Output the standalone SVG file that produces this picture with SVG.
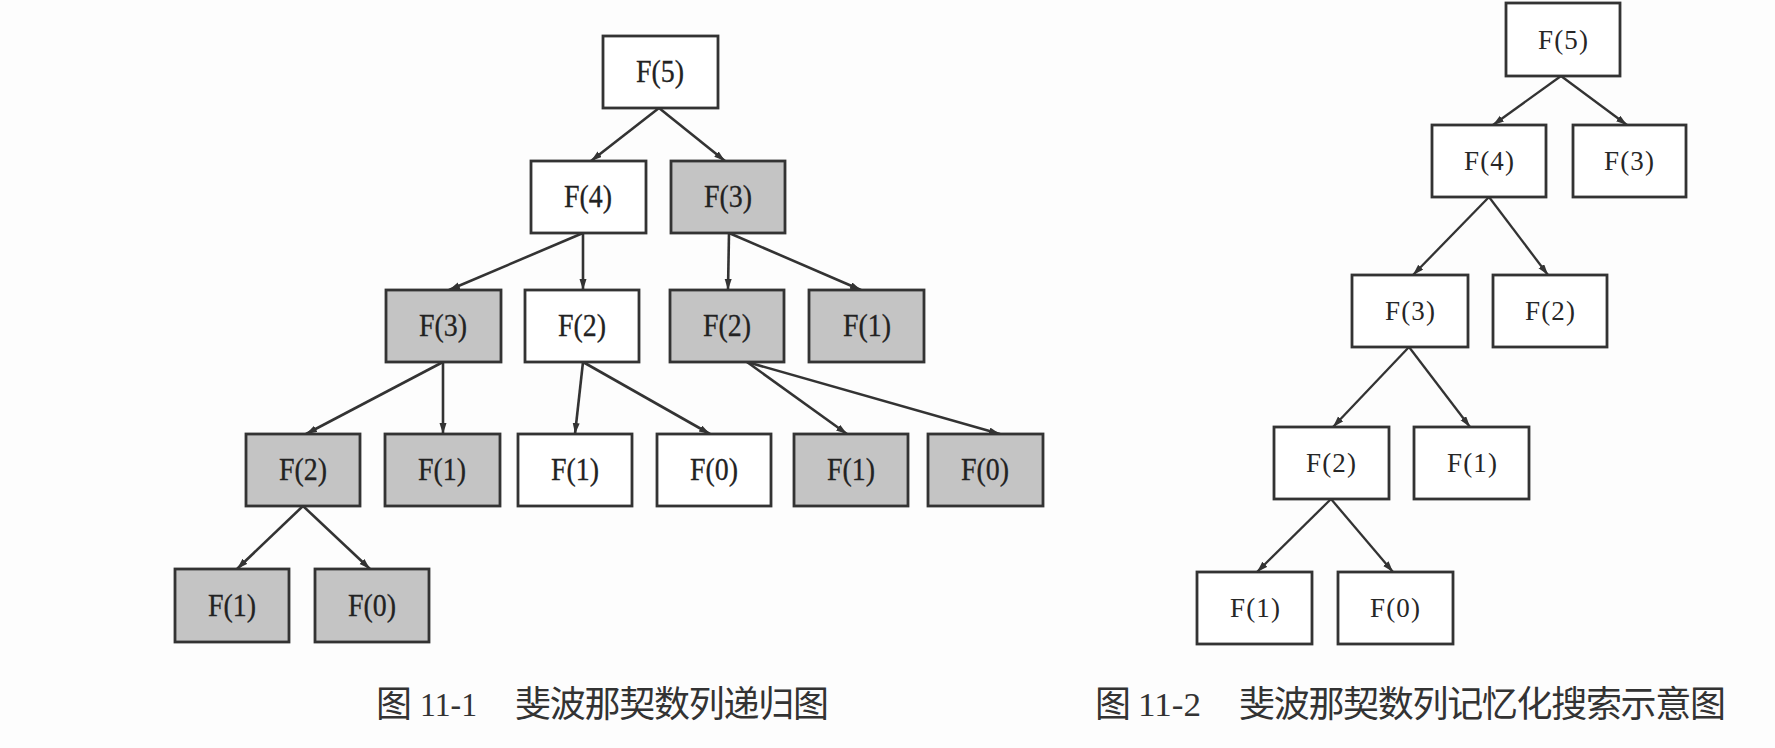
<svg xmlns="http://www.w3.org/2000/svg" width="1775" height="748" viewBox="0 0 1775 748">
<defs>
<marker id="ah" markerUnits="userSpaceOnUse" markerWidth="12" markerHeight="8" refX="11" refY="3.5" orient="auto">
<path d="M0,0 L11,3.5 L0,7 z" fill="#333"/>
</marker>
</defs>
<style>
.box{stroke:#333;stroke-width:2.8}
.w{fill:#ffffff}
.g{fill:#c4c4c4}
.lt{font-family:"Liberation Serif",serif;font-size:31px;text-anchor:middle;fill:#222;stroke:#222;stroke-width:0.3}
.rt{font-family:"Liberation Serif",serif;font-size:27px;text-anchor:middle;fill:#262626}
.edge{stroke:#333;stroke-width:2.6;fill:none;marker-end:url(#ah)}
.redge{stroke:#333;stroke-width:2.3;fill:none;marker-end:url(#ah)}
.cap{font-family:"Noto Sans CJK SC","Noto Sans",sans-serif;font-size:36px;fill:#333}
.num{font-family:"Liberation Serif",serif;font-size:34px;fill:#333}
</style>
<rect width="1775" height="748" fill="#fdfdfd"/>

<g id="connectors">
<line class="edge" x1="659" y1="108" x2="591" y2="161"/>
<line class="edge" x1="659" y1="108" x2="725" y2="161"/>
<line class="edge" x1="583" y1="233" x2="449" y2="290"/>
<line class="edge" x1="583" y1="233" x2="583" y2="290"/>
<line class="edge" x1="729" y1="233" x2="728" y2="290"/>
<line class="edge" x1="729" y1="233" x2="861" y2="290"/>
<line class="edge" x1="443" y1="362" x2="306" y2="434"/>
<line class="edge" x1="443" y1="362" x2="443" y2="434"/>
<line class="edge" x1="583" y1="362" x2="575" y2="434"/>
<line class="edge" x1="583" y1="362" x2="710" y2="434"/>
<line class="edge" x1="747" y1="362" x2="847" y2="434"/>
<line class="edge" x1="747" y1="362" x2="1000" y2="434"/>
<line class="edge" x1="303" y1="506" x2="237" y2="569"/>
<line class="edge" x1="303" y1="506" x2="370" y2="569"/>
<line class="redge" x1="1561" y1="76" x2="1493" y2="125"/>
<line class="redge" x1="1561" y1="76" x2="1627" y2="125"/>
<line class="redge" x1="1489" y1="197" x2="1413" y2="275"/>
<line class="redge" x1="1489" y1="197" x2="1548" y2="275"/>
<line class="redge" x1="1409" y1="347" x2="1333" y2="427"/>
<line class="redge" x1="1409" y1="347" x2="1470" y2="427"/>
<line class="redge" x1="1331" y1="499" x2="1257" y2="572"/>
<line class="redge" x1="1331" y1="499" x2="1393" y2="572"/>
</g>

<g id="L-F5"><rect class="box w" x="603" y="36" width="115" height="72"/><text class="lt" x="660" y="82" textLength="48" lengthAdjust="spacingAndGlyphs">F(5)</text></g>
<g id="L-F4"><rect class="box w" x="531" y="161" width="115" height="72"/><text class="lt" x="588" y="207" textLength="48" lengthAdjust="spacingAndGlyphs">F(4)</text></g>
<g id="L-F3a"><rect class="box g" x="671" y="161" width="114" height="72"/><text class="lt" x="728" y="207" textLength="48" lengthAdjust="spacingAndGlyphs">F(3)</text></g>
<g id="L-F3b"><rect class="box g" x="386" y="290" width="115" height="72"/><text class="lt" x="443" y="336" textLength="48" lengthAdjust="spacingAndGlyphs">F(3)</text></g>
<g id="L-F2a"><rect class="box w" x="525" y="290" width="114" height="72"/><text class="lt" x="582" y="336" textLength="48" lengthAdjust="spacingAndGlyphs">F(2)</text></g>
<g id="L-F2b"><rect class="box g" x="670" y="290" width="114" height="72"/><text class="lt" x="727" y="336" textLength="48" lengthAdjust="spacingAndGlyphs">F(2)</text></g>
<g id="L-F1a"><rect class="box g" x="809" y="290" width="115" height="72"/><text class="lt" x="867" y="336" textLength="48" lengthAdjust="spacingAndGlyphs">F(1)</text></g>
<g id="L-F2c"><rect class="box g" x="246" y="434" width="114" height="72"/><text class="lt" x="303" y="480" textLength="48" lengthAdjust="spacingAndGlyphs">F(2)</text></g>
<g id="L-F1b"><rect class="box g" x="385" y="434" width="115" height="72"/><text class="lt" x="442" y="480" textLength="48" lengthAdjust="spacingAndGlyphs">F(1)</text></g>
<g id="L-F1c"><rect class="box w" x="518" y="434" width="114" height="72"/><text class="lt" x="575" y="480" textLength="48" lengthAdjust="spacingAndGlyphs">F(1)</text></g>
<g id="L-F0a"><rect class="box w" x="657" y="434" width="114" height="72"/><text class="lt" x="714" y="480" textLength="48" lengthAdjust="spacingAndGlyphs">F(0)</text></g>
<g id="L-F1d"><rect class="box g" x="794" y="434" width="114" height="72"/><text class="lt" x="851" y="480" textLength="48" lengthAdjust="spacingAndGlyphs">F(1)</text></g>
<g id="L-F0b"><rect class="box g" x="928" y="434" width="115" height="72"/><text class="lt" x="985" y="480" textLength="48" lengthAdjust="spacingAndGlyphs">F(0)</text></g>
<g id="L-F1e"><rect class="box g" x="175" y="569" width="114" height="73"/><text class="lt" x="232" y="616" textLength="48" lengthAdjust="spacingAndGlyphs">F(1)</text></g>
<g id="L-F0c"><rect class="box g" x="315" y="569" width="114" height="73"/><text class="lt" x="372" y="616" textLength="48" lengthAdjust="spacingAndGlyphs">F(0)</text></g>

<g id="R-F5"><rect class="box w" x="1506" y="3" width="114" height="73"/><text class="rt" x="1563" y="49" textLength="50" lengthAdjust="spacing">F(5)</text></g>
<g id="R-F4"><rect class="box w" x="1432" y="125" width="114" height="72"/><text class="rt" x="1489" y="170" textLength="50" lengthAdjust="spacing">F(4)</text></g>
<g id="R-F3a"><rect class="box w" x="1573" y="125" width="113" height="72"/><text class="rt" x="1629" y="170" textLength="50" lengthAdjust="spacing">F(3)</text></g>
<g id="R-F3b"><rect class="box w" x="1352" y="275" width="116" height="72"/><text class="rt" x="1410" y="320" textLength="50" lengthAdjust="spacing">F(3)</text></g>
<g id="R-F2a"><rect class="box w" x="1493" y="275" width="114" height="72"/><text class="rt" x="1550" y="320" textLength="50" lengthAdjust="spacing">F(2)</text></g>
<g id="R-F2b"><rect class="box w" x="1274" y="427" width="115" height="72"/><text class="rt" x="1331" y="472" textLength="50" lengthAdjust="spacing">F(2)</text></g>
<g id="R-F1a"><rect class="box w" x="1414" y="427" width="115" height="72"/><text class="rt" x="1472" y="472" textLength="50" lengthAdjust="spacing">F(1)</text></g>
<g id="R-F1b"><rect class="box w" x="1197" y="572" width="115" height="72"/><text class="rt" x="1255" y="617" textLength="50" lengthAdjust="spacing">F(1)</text></g>
<g id="R-F0"><rect class="box w" x="1338" y="572" width="115" height="72"/><text class="rt" x="1395" y="617" textLength="50" lengthAdjust="spacing">F(0)</text></g>

<g id="caption-1">
<text class="cap" x="376" y="717">图</text>
<text class="num" x="420" y="716" textLength="57" lengthAdjust="spacingAndGlyphs">11-1</text>
<text class="cap" x="515" y="717" textLength="314" lengthAdjust="spacing">斐波那契数列递归图</text>
</g>
<g id="caption-2">
<text class="cap" x="1095" y="717">图</text>
<text class="num" x="1138" y="716" textLength="63" lengthAdjust="spacingAndGlyphs">11-2</text>
<text class="cap" x="1239" y="717" textLength="487" lengthAdjust="spacing">斐波那契数列记忆化搜索示意图</text>
</g>
</svg>
